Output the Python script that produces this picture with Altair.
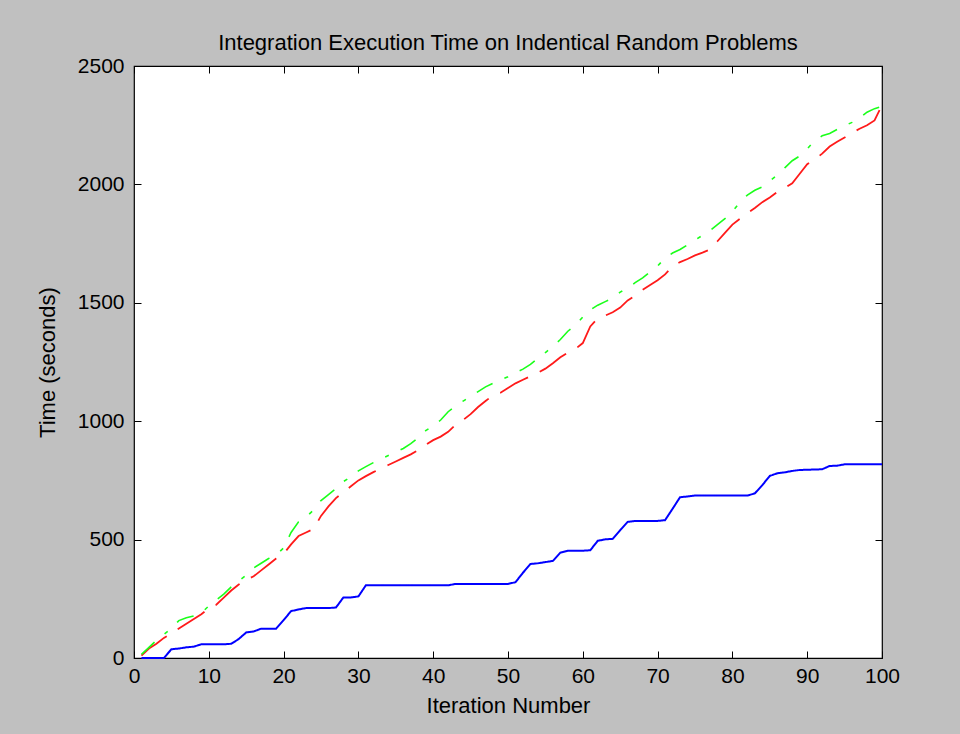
import altair as alt
import pandas as pd

iterations = list(range(1, 101))

blue_times = [0, 0, 0, 0, 37, 40, 45, 48, 58, 58,
              58, 58, 60, 80, 108, 112, 124, 124, 124, 160,
              198, 205, 211, 211, 211, 211, 213, 256, 256, 260,
              307, 307, 307, 307, 307, 307, 307, 307, 307, 307,
              307, 307, 313, 313, 313, 313, 313, 313, 313, 313,
              320, 360, 397, 400, 405, 410, 445, 453, 453, 453,
              455, 495, 501, 503, 540, 575, 579, 579, 579, 579,
              582, 630, 679, 682, 686, 686, 686, 686, 686, 686,
              686, 686, 695, 730, 769, 780, 784, 790, 794, 795,
              796, 797, 811, 812, 818, 818, 818, 818, 818, 818]

red_times = [10, 40, 60, 85, 104, 125, 145, 165, 185, 210,
             225, 255, 285, 310, 330, 345, 370, 395, 420, 440,
             480, 515, 530, 545, 600, 640, 675, 700, 725, 750,
             768, 785, 800, 815, 830, 845, 860, 878, 900, 920,
             935, 955, 985, 1005, 1030, 1060, 1085, 1110, 1120, 1140,
             1160, 1175, 1190, 1205, 1222, 1245, 1270, 1290, 1305, 1330,
             1400, 1435, 1446, 1460, 1480, 1510, 1530, 1555, 1575, 1595,
             1620, 1655, 1672, 1685, 1700, 1712, 1725, 1760, 1795, 1830,
             1855, 1878, 1900, 1925, 1945, 1968, 1985, 2005, 2045, 2085,
             2105, 2130, 2160, 2180, 2198, 2218, 2235, 2250, 2270, 2335]

green_times = [15, 45, 75, 100, 125, 158, 170, 178, 190, 220,
               245, 270, 300, 325, 350, 380, 400, 420, 435, 465,
               530, 575, 595, 625, 665, 690, 715, 745, 765, 790,
               808, 825, 840, 855, 870, 885, 905, 930, 960, 980,
               1005, 1040, 1065, 1085, 1105, 1125, 1145, 1160, 1175, 1188,
               1205, 1220, 1240, 1265, 1290, 1315, 1345, 1380, 1405, 1440,
               1470, 1490, 1505, 1520, 1545, 1562, 1585, 1605, 1630, 1655,
               1690, 1710, 1725, 1745, 1765, 1785, 1805, 1830, 1855, 1885,
               1925, 1955, 1975, 1990, 2015, 2040, 2070, 2100, 2120, 2150,
               2185, 2205, 2215, 2232, 2248, 2262, 2280, 2305, 2320, 2330]

series_names = ["blue", "red", "green"]
series_colors = ["#0000ff", "#ff1a1a", "#1aff1a"]
series_dashes = [[1, 0], [32, 13], [18, 13, 4, 13]]
series_widths = [2, 1.6, 1.6]

x_ticks = list(range(0, 101, 10))
y_ticks = list(range(0, 2501, 500))

rows = []
for name, vals in zip(series_names, [blue_times, red_times, green_times]):
    for it, v in zip(iterations, vals):
        rows.append({"iteration": it, "time": v, "series": name})
df = pd.DataFrame(rows)

W, H = 748, 592
FONT = "Liberation Sans"

def xscale():
    return alt.Scale(domain=[0, 100], nice=False, zero=False)

def yscale():
    return alt.Scale(domain=[0, 2500], nice=False, zero=False)

lines = alt.Chart(df).mark_line().encode(
    x=alt.X("iteration:Q", scale=xscale(),
            axis=alt.Axis(orient="bottom", values=x_ticks, ticks=False, domain=False,
                          grid=False, labelFontSize=21, labelFont=FONT, labelColor="black",
                          labelPadding=7, labelFlush=False, format="d",
                          title="Iteration Number", titleFont=FONT, titleFontSize=22,
                          titleFontWeight="normal", titleColor="black", titlePadding=9)),
    y=alt.Y("time:Q", scale=yscale(),
            axis=alt.Axis(orient="left", values=y_ticks, ticks=False, domain=False,
                          grid=False, labelFontSize=21, labelFont=FONT, labelColor="black",
                          labelPadding=10, labelFlush=False, format="d",
                          title="Time (seconds)", titleFont=FONT, titleFontSize=22,
                          titleFontWeight="normal", titleColor="black", titlePadding=18)),
    color=alt.Color("series:N", scale=alt.Scale(domain=series_names, range=series_colors), legend=None),
    strokeDash=alt.StrokeDash("series:N", scale=alt.Scale(domain=series_names, range=series_dashes), legend=None),
    size=alt.Size("series:N", scale=alt.Scale(domain=series_names, range=series_widths), legend=None),
    detail="series:N",
    order="iteration:Q",
)

def tick_layer(xorient, yorient):
    return alt.Chart(df).mark_line(strokeOpacity=0).encode(
        x=alt.X("iteration:Q", scale=xscale(),
                axis=alt.Axis(orient=xorient, offset=-H, values=x_ticks, labels=False,
                              ticks=True, tickSize=7, tickColor="black", tickWidth=1,
                              domain=False, grid=False, title=None)),
        y=alt.Y("time:Q", scale=yscale(),
                axis=alt.Axis(orient=yorient, offset=-W, values=y_ticks, labels=False,
                              ticks=True, tickSize=7, tickColor="black", tickWidth=1,
                              domain=False, grid=False, title=None)),
        detail="series:N",
    )

chart = alt.layer(
    lines,
    tick_layer("top", "right"),
    tick_layer("bottom", "left"),
).resolve_scale(
    x="independent", y="independent"
).properties(
    width=W, height=H,
    title=alt.TitleParams("Integration Execution Time on Indentical Random Problems",
                          font=FONT, fontSize=22, fontWeight="normal", color="black",
                          anchor="middle", offset=0),
    background="#c0c0c0",
    padding={"left": 134, "top": 66, "right": 78, "bottom": 76},
    autosize=alt.AutoSizeParams(type="none"),
).configure_view(
    fill="white", stroke="black", strokeWidth=1.2
)

chart.save("out.html", embed_options={"renderer": "svg", "actions": False})
